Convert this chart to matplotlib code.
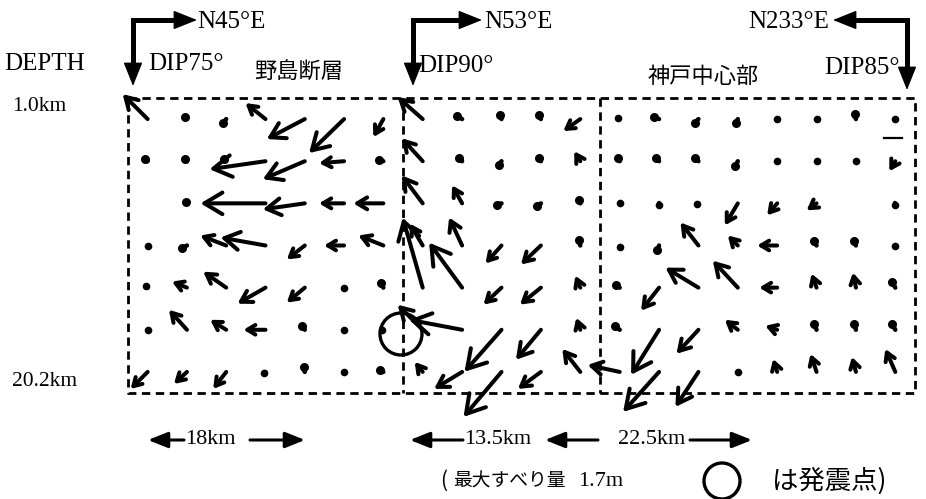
import numpy as np
import matplotlib
matplotlib.use("Agg")
import matplotlib.pyplot as plt
from matplotlib.patches import Circle

# ---------------- data: slip vectors (display units, +u = along strike right, +v = down-dip) -------------
nan = np.nan
# Nojima fault segment (7 rows x 7 columns)
nojima_u = [
    [-25, -3, -5, -20, -38, -35, -10],
    [-4, -3, -4, -56, -42, -25, -8],
    [nan, -2, nan, -65, -42, -25, -30],
    [0, -8, -26, -45, -18, -20, -25],
    [-2, -15, -23, -28, -18, 0, -4],
    [0, -18, -16, -22, -5, 0, -3],
    [-17, -13, -13, -2, -2, 0, -5],
]
nojima_v = [
    [-25, -3, 6, -16, 20, 34, 18],
    [-4, -3, -3, 8, 18, 2, -2],
    [nan, -3, nan, 0, 6, 0, 0],
    [0, 4, -10, -8, 14, 0, -10],
    [-2, -6, -16, 16, 15, 0, -7],
    [0, -20, -10, 0, -6, 0, 0],
    [17, 12, 17, 1, -8, 0, -4],
]
# central segment (7 rows x 5 columns)
mid_u = [
    [-25, -8, -2, -4, -17],
    [-21, -5, -5, -3, -6],
    [-21, -10, -7, -7, -2],
    [-13, -13, -16, -20, -3],
    [-20, -33, -18, -21, -5],
    [-25, -53, -37, -25, -4],
    [-8, -28, -38, -23, -18],
]
mid_v = [
    [-22, -5, -7, -6, 12],
    [-23, -6, 6, -6, -10],
    [-28, -18, 2, 4, -6],
    [-22, -28, 18, 19, -10],
    [-70, -45, 17, 17, -12],
    [-25, -10, 42, 30, -12],
    [-10, 17, 45, 17, -23],
]
# Kobe central segment (7 rows x 8 columns)
kobe_u = [
    [-2, -8, -6, -3, 0, 0, -2, 0],
    [-2, -5, -5, -4, 0, 0, 0, -6],
    [0, 0, -2, -13, -10, -10, nan, 0],
    [0, -3, -18, -10, -20, -5, -3, 0],
    [-6, -18, -33, -25, -18, -5, -3, -5],
    [-8, -28, -22, -13, -12, -4, -3, -5],
    [-32, -36, -23, 0, -4, -6, -4, -10],
]
kobe_v = [
    [-2, -3, 6, 6, 0, 0, -9, 0],
    [-6, -5, -5, 8, 0, 0, 0, 10],
    [0, 2, 1, 22, 12, 7, nan, 2],
    [2, 8, -23, -10, 0, -7, -7, 0],
    [-5, 23, -20, -27, 0, -14, -15, -9],
    [-6, 45, 24, -10, -4, -10, -10, -9],
    [-7, 40, 35, 0, -13, -18, -15, -23],
]

segment_names = ["野島断層", "神戸中心部"]
segment_lengths = ["18km", "13.5km", "22.5km"]
strikes = ["N45°E", "N53°E", "N233°E"]
dips = ["DIP75°", "DIP90°", "DIP85°"]
depth_labels = ["1.0km", "20.2km"]

# ---------------- layout ----------------
W, H = 926, 499
fig = plt.figure(figsize=(W / 100, H / 100), dpi=100)
ax = fig.add_axes([0, 0, 1, 1])
ax.set_xlim(0, W)
ax.set_ylim(H, 0)
ax.axis("off")

serif = ["Liberation Serif", "DejaVu Serif"]
cjk = ["Noto Sans CJK JP", "DejaVu Sans"]

x_edges = [128, 403, 600, 915]
y_top, y_bot = 98, 393
nrows = 7
row_h = (y_bot - y_top) / nrows

# dashed panel borders
dash = dict(color="black", lw=2.0, dashes=(3.0, 2.0))
ax.plot([x_edges[0], x_edges[-1], x_edges[-1], x_edges[0], x_edges[0]],
        [y_top, y_top, y_bot, y_bot, y_top], **dash)
for xe in x_edges[1:-1]:
    ax.plot([xe, xe], [y_top, y_bot], **dash)

def draw_vectors(U, V, x0, x1):
    U = np.array(U, float)
    V = np.array(V, float)
    ncols = U.shape[1]
    cw = (x1 - x0) / ncols
    for r in range(nrows):
        for c in range(ncols):
            u, v = U[r, c], V[r, c]
            if np.isnan(u):
                continue
            tx = x0 + (c + 0.5) * cw
            ty = y_top + (r + 0.5) * row_h
            L = np.hypot(u, v)
            if L < 11:
                ax.plot([tx, tx + u * 0.6], [ty, ty + v * 0.6], color="black",
                        lw=3.2, solid_capstyle="round", zorder=3)
                ax.plot([tx + u * 0.6], [ty + v * 0.6], "o", color="black",
                        ms=6.5 if L > 3 else 5.5, mew=0, zorder=3)
            else:
                hl = np.clip(0.33 * L, 8, 18) * 0.72
                hw = hl * 0.6
                ax.annotate("", xy=(tx + u, ty + v), xytext=(tx, ty),
                            arrowprops=dict(arrowstyle=f"->,head_length={hl:.2f},head_width={hw:.2f}",
                                            lw=2.9, color="black", shrinkA=0, shrinkB=0,
                                            mutation_scale=1, capstyle="round",
                                            joinstyle="round"),
                            zorder=3)

draw_vectors(nojima_u, nojima_v, x_edges[0], x_edges[1])
draw_vectors(mid_u, mid_v, x_edges[1], x_edges[2])
draw_vectors(kobe_u, kobe_v, x_edges[2], x_edges[3])

# stray scale dash in the right panel
ax.plot([884, 902], [138, 138], color="black", lw=1.6)

# hypocentre circle
ax.add_patch(Circle((401, 334), 21, fill=False, lw=2.4, color="black", zorder=4))

# ---------------- header: strike/dip bent arrows ----------------
def bent_arrow(xv, xh_tip, y_h, y_tip):
    s = np.sign(xh_tip - xv)
    ax.plot([xv, xv, xh_tip - s * 16], [y_tip - 18, y_h, y_h],
            color="black", lw=3.6, solid_joinstyle="miter")
    hp = dict(arrowstyle="-|>,head_length=15,head_width=6", lw=1, color="black",
              shrinkA=0, shrinkB=0, mutation_scale=1)
    ax.annotate("", xy=(xv, y_tip), xytext=(xv, y_tip - 24), arrowprops=hp)
    ax.annotate("", xy=(xh_tip, y_h), xytext=(xh_tip - s * 24, y_h), arrowprops=hp)

bent_arrow(133, 197, 20, 86)
bent_arrow(413, 482, 20, 86)
bent_arrow(907, 833, 20, 90)

fs = 18
ax.text(197, 22, strikes[0], fontsize=fs, family=serif, va="center", ha="left")
ax.text(484, 22, strikes[1], fontsize=fs, family=serif, va="center", ha="left")
ax.text(829, 22, strikes[2], fontsize=fs, family=serif, va="center", ha="right")

ax.text(4, 64, "DEPTH", fontsize=fs, family=serif, va="center", ha="left")
ax.text(148, 64, dips[0], fontsize=fs, family=serif, va="center", ha="left")
ax.text(418, 66, dips[1], fontsize=fs, family=serif, va="center", ha="left")
ax.text(900, 68, dips[2], fontsize=fs, family=serif, va="center", ha="right")

ax.text(299, 72, segment_names[0], fontsize=16, family=cjk, va="center", ha="center")
ax.text(703, 76, segment_names[1], fontsize=16, family=cjk, va="center", ha="center")

ax.text(12, 106, depth_labels[0], fontsize=15.5, family=serif, va="center", ha="left")
ax.text(12, 381, depth_labels[1], fontsize=15.5, family=serif, va="center", ha="left")

# ---------------- bottom: segment lengths ----------------
yb = 440
bp = dict(arrowstyle="-|>,head_length=12,head_width=4.8", lw=2.2, color="black",
          shrinkA=0, shrinkB=0, mutation_scale=1)
for tail, tip in [(184, 148), (250, 305), (463, 410), (598, 545), (690, 752)]:
    ax.annotate("", xy=(tip, yb), xytext=(tail, yb), arrowprops=bp)
ax.text(185, yb, segment_lengths[0], fontsize=16, family=serif, va="center", ha="left")
ax.text(464, yb, segment_lengths[1], fontsize=16, family=serif, va="center", ha="left")
ax.text(618, yb, segment_lengths[2], fontsize=16, family=serif, va="center", ha="left")

yl = 481
ax.text(440, yl, "(", fontsize=15, family=cjk, va="center", ha="left")
ax.text(453, yl, "最大すべり量", fontsize=13.5, family=cjk, va="center", ha="left")
ax.text(578, yl, "1.7m", fontsize=16, family=serif, va="center", ha="left")
ax.add_patch(Circle((722, 481), 18, fill=False, lw=2.4, color="black"))
ax.text(772, yl, "は発震点)", fontsize=19, family=cjk, va="center", ha="left")

fig.savefig("out.png", dpi=100)
